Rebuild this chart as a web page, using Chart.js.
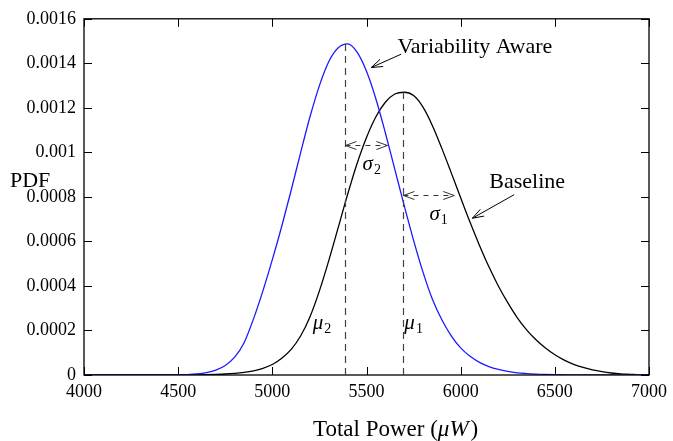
<!DOCTYPE html>
<html><head><meta charset="utf-8">
<script src="https://cdn.jsdelivr.net/npm/chart.js@4/dist/chart.umd.min.js"></script>
<style>html,body{margin:0;padding:0;background:#fff;}#wrap{width:673px;height:441px;}</style>
</head><body><div id="wrap"><canvas id="c" width="673" height="441"></canvas></div>
<script>
// ---- data ----
const powerValues = [4000,4050,4100,4150,4200,4250,4300,4350,4400,4450,4500,4550,4600,4650,4700,4750,4800,4850,4900,4950,
  5000,5050,5100,5150,5200,5250,5300,5350,5400,5450,5500,5550,5600,5650,5700,5750,5800,5850,5900,5950,
  6000,6050,6100,6150,6200,6250,6300,6350,6400,6450,6500,6550,6600,6650,6700,6750,6800,6850,6900,6950,7000];
const variabilityAwarePdf = [0,0,0,0,0,0,0,0,0,0,0.000001,0.000002,0.000005,0.000011,0.000022,0.000043,0.000080,0.000145,0.000252,0.000378,
  0.000518,0.000668,0.000830,0.000998,0.001160,0.001300,0.001408,0.001470,0.001487,0.001450,0.001364,0.001240,0.001088,0.000925,0.000762,0.000605,0.000462,0.000340,0.000248,0.000176,
  0.000122,0.000084,0.000057,0.000038,0.000025,0.000016,0.000010,0.0000065,0.000004,0.0000025,0.0000015,0.000001,0.0000006,0.0000003,0.0000002,0.0000001,0,0,0,0,0];
const baselinePdf = [0,0,0,0,0,0,0,0,0,0.0000001,0.0000002,0.0000004,0.0000008,0.0000015,0.0000027,0.0000045,0.0000075,0.000012,0.000019,0.000030,
  0.000047,0.000075,0.000115,0.000175,0.000262,0.000378,0.000515,0.000663,0.000812,0.000950,0.001067,0.001160,0.001225,0.001262,0.001270,0.001255,0.001203,0.001120,0.001018,0.000908,
  0.000796,0.000686,0.000582,0.000486,0.000400,0.000325,0.000258,0.000203,0.000158,0.000121,0.000091,0.000067,0.000048,0.000034,0.000023,0.000015,0.000009,0.000005,0.000003,0.000001,0.0000005];
const xTickValues = [4000,4500,5000,5500,6000,6500,7000];
const yTickValues = [0,0.0002,0.0004,0.0006,0.0008,0.001,0.0012,0.0014,0.0016];
const seriesNames = ['Variability Aware','Baseline'];
const axisTitleX = ['Total Power (', 'μW', ')'];
const axisTitleY = 'PDF';
const mu2 = 5388, mu2Peak = 0.001488;   // Variability Aware mean
const mu1 = 5696, mu1Peak = 0.00127;    // Baseline mean
const sigma2Arrow = [5388, 5611, 0.001035];
const sigma1Arrow = [5696, 5966, 0.00081];

const SERIF = '"Liberation Serif","Times New Roman",serif';

const overlay = {
  id: 'overlay',
  afterDatasetsDraw(chart) {
    const {ctx, chartArea: a, scales: {x, y}} = chart;
    const X = v => x.getPixelForValue(v), Y = v => y.getPixelForValue(v);
    ctx.save();
    // frame + inward ticks
    ctx.strokeStyle = '#000'; ctx.lineWidth = 1.3; ctx.setLineDash([]);
    ctx.strokeRect(a.left, a.top, a.right - a.left, a.bottom - a.top);
    ctx.lineWidth = 1;
    ctx.beginPath();
    xTickValues.forEach(v => { const p = Math.round(X(v)) + 0.5;
      ctx.moveTo(p, a.bottom); ctx.lineTo(p, a.bottom - 8);
      ctx.moveTo(p, a.top); ctx.lineTo(p, a.top + 8); });
    yTickValues.forEach(v => { const p = Math.round(Y(v)) + 0.5;
      ctx.moveTo(a.left, p); ctx.lineTo(a.left + 8, p);
      ctx.moveTo(a.right, p); ctx.lineTo(a.right - 8, p); });
    ctx.stroke();
    // mean lines
    ctx.strokeStyle = '#444'; ctx.lineWidth = 1.2; ctx.setLineDash([7, 5]);
    [[mu2, mu2Peak], [mu1, mu1Peak]].forEach(([m, pk]) => {
      ctx.beginPath(); ctx.moveTo(Math.round(X(m)) + 0.5, Y(0)); ctx.lineTo(Math.round(X(m)) + 0.5, Y(pk)); ctx.stroke();
    });
    // sigma double arrows
    const dbl = (x1, x2, yv) => {
      const p1 = X(x1), p2 = X(x2), py = Math.round(Y(yv)) + 0.5;
      ctx.strokeStyle = '#333'; ctx.lineWidth = 1;
      ctx.setLineDash([5, 5]);
      ctx.beginPath(); ctx.moveTo(p1, py); ctx.lineTo(p2, py); ctx.stroke();
      ctx.setLineDash([]);
      ctx.beginPath();
      ctx.moveTo(p1 + 11, py - 4); ctx.lineTo(p1, py); ctx.lineTo(p1 + 11, py + 4);
      ctx.moveTo(p2 - 11, py - 4); ctx.lineTo(p2, py); ctx.lineTo(p2 - 11, py + 4);
      ctx.stroke();
    };
    dbl(sigma2Arrow[0], sigma2Arrow[1], sigma2Arrow[2]);
    dbl(sigma1Arrow[0], sigma1Arrow[1], sigma1Arrow[2]);
    // pointer arrows
    const ptr = (fx, fy, tx, ty) => {
      const x1 = X(fx), y1 = Y(fy), x2 = X(tx), y2 = Y(ty);
      const ang = Math.atan2(y2 - y1, x2 - x1), L = 12, w = 0.33;
      ctx.strokeStyle = '#000'; ctx.lineWidth = 1; ctx.setLineDash([]);
      ctx.beginPath(); ctx.moveTo(x1, y1); ctx.lineTo(x2, y2);
      ctx.moveTo(x2 - L * Math.cos(ang - w), y2 - L * Math.sin(ang - w));
      ctx.lineTo(x2, y2);
      ctx.lineTo(x2 - L * Math.cos(ang + w), y2 - L * Math.sin(ang + w));
      ctx.stroke();
    };
    ptr(5684, 0.001441, 5525, 0.001381);
    ptr(6284, 0.00081, 6062, 0.000704);
    // labels
    ctx.fillStyle = '#000'; ctx.textBaseline = 'alphabetic'; ctx.textAlign = 'left';
    ctx.font = '22px ' + SERIF;
    ctx.fillText(seriesNames[0], X(5664), Y(0.001448));
    ctx.fillText(seriesNames[1], X(6152), Y(0.000841));
    ctx.fillText(axisTitleY, 10, Y(0.00088) + 8);
    const greek = (g, sub, xv, yv) => {
      const px = X(xv), py = Y(yv);
      ctx.font = 'italic 21px ' + SERIF;
      ctx.fillText(g, px, py);
      const w = ctx.measureText(g).width;
      ctx.font = '14px ' + SERIF;
      ctx.fillText(sub, px + w + 1, py + 4);
    };
    greek('μ', '2', 5214, 0.000207);
    greek('μ', '1', 5701, 0.000207);
    greek('σ', '2', 5479, 0.000922);
    greek('σ', '1', 5834, 0.000694);
    // x axis title (mixed upright / italic)
    let tx = 313; const ty = 436;
    ctx.font = '23px ' + SERIF; ctx.fillText(axisTitleX[0], tx, ty); tx += ctx.measureText(axisTitleX[0]).width;
    ctx.font = 'italic 23px ' + SERIF; ctx.fillText(axisTitleX[1], tx, ty); tx += ctx.measureText(axisTitleX[1]).width + 2;
    ctx.font = '23px ' + SERIF; ctx.fillText(axisTitleX[2], tx, ty);
    ctx.restore();
  }
};

new Chart(document.getElementById('c'), {
  type: 'line',
  data: {
    datasets: [
      { label: seriesNames[0], data: powerValues.map((p, i) => ({x: p, y: variabilityAwarePdf[i]})),
        borderColor: '#1a1aff', borderWidth: 1.3, pointRadius: 0, fill: false, cubicInterpolationMode: 'monotone' },
      { label: seriesNames[1], data: powerValues.map((p, i) => ({x: p, y: baselinePdf[i]})),
        borderColor: '#000', borderWidth: 1.3, pointRadius: 0, fill: false, cubicInterpolationMode: 'monotone' }
    ]
  },
  options: {
    responsive: false, animation: false, devicePixelRatio: 1,
    layout: { padding: { top: 16, right: 23, left: 0, bottom: 0 } },
    plugins: { legend: { display: false }, tooltip: { enabled: false } },
    scales: {
      x: {
        type: 'linear', min: 4000, max: 7000,
        afterBuildTicks: s => { s.ticks = xTickValues.map(v => ({value: v})); },
        afterFit: s => { s.height = 66; },
        grid: { display: false, drawTicks: false },
        border: { display: false },
        ticks: { color: '#000', padding: 6, maxRotation: 0, autoSkip: false, font: { family: SERIF, size: 18 },
          callback: v => String(v) }
      },
      y: {
        min: 0, max: 0.0016,
        afterBuildTicks: s => { s.ticks = yTickValues.map(v => ({value: v})); },
        afterFit: s => { s.width = 84; },
        grid: { display: false, drawTicks: false },
        border: { display: false },
        ticks: { color: '#000', padding: 8, autoSkip: false, font: { family: SERIF, size: 18 },
          callback: v => v === 0 ? '0' : String(parseFloat(v.toFixed(4))) }
      }
    }
  },
  plugins: [overlay]
});
</script>
</body></html>
